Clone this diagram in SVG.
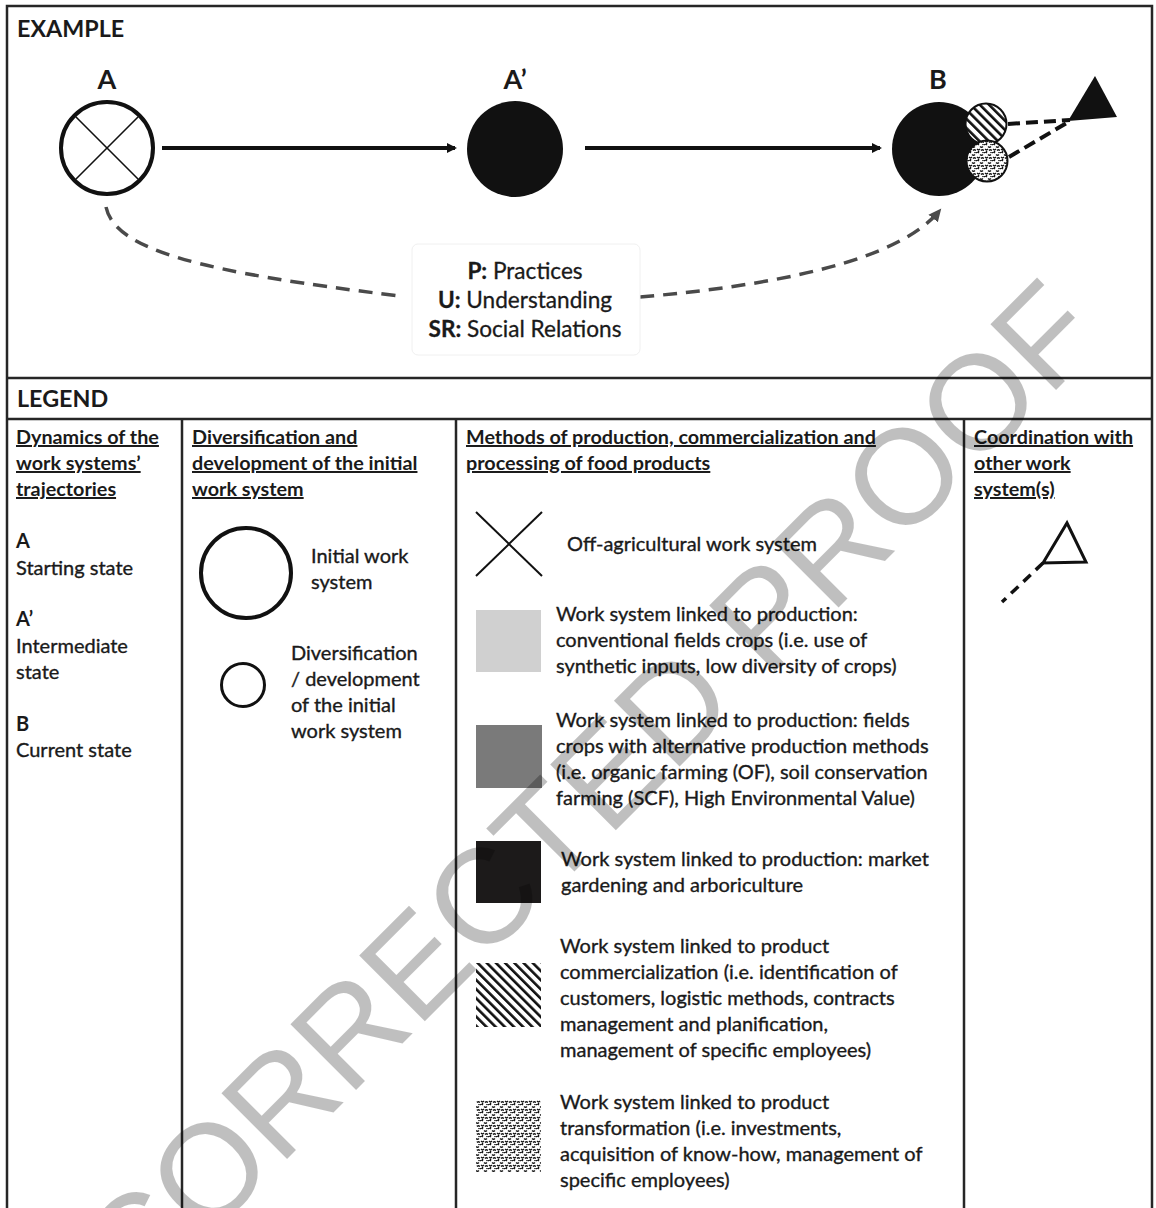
<svg xmlns="http://www.w3.org/2000/svg" width="1156" height="1208" viewBox="0 0 1156 1208">
<style>
text{font-family:Lato,"Open Sans","Liberation Sans",sans-serif;fill:#1a1a1a}
.h{font-weight:bold;font-size:23.3px}
.hd{font-weight:bold;font-size:19.8px;text-decoration:underline}
.t{font-size:20px;stroke:#1a1a1a;stroke-width:0.35}
.tb{font-size:20px;font-weight:bold}
.lbl{font-size:22.6px;text-anchor:middle;stroke:#1a1a1a;stroke-width:0.3}
.big{font-weight:bold;font-size:27px;text-anchor:middle}
.frame{stroke:#262626;stroke-width:2.5;fill:none}
.wm{font-family:"Liberation Sans",Arial,sans-serif;font-size:135px;fill:#000;fill-opacity:0.25}
</style>
<defs>
<pattern id="hatch" width="6.5" height="6.5" patternUnits="userSpaceOnUse" patternTransform="rotate(-45)">
<rect width="6.5" height="6.5" fill="#fff"/>
<rect x="0" y="0" width="2.6" height="6.5" fill="#111"/>
</pattern>
<pattern id="dots" width="8" height="8" patternUnits="userSpaceOnUse">
<rect width="8" height="8" fill="#fff"/>
<path d="M0,1 q1.5,-1.5 3,0 M4,2.5 q1.5,1.5 3,0 M1,5 q1.5,1.5 3,0 M5,6.5 q1.5,-1.5 3,0" fill="none" stroke="#111" stroke-width="1.2"/>
<circle cx="7" cy="0.5" r="0.8" fill="#111"/>
<circle cx="2.5" cy="7.4" r="0.8" fill="#111"/>
</pattern>
<marker id="ah" markerWidth="10" markerHeight="10" refX="8" refY="5" orient="auto" markerUnits="userSpaceOnUse">
<path d="M0,0 L10,5 L0,10 Z" fill="#111"/>
</marker>
<marker id="ahg" markerWidth="14" markerHeight="14" refX="11" refY="7" orient="auto" markerUnits="userSpaceOnUse">
<path d="M0,1 L13,7 L0,13 Z" fill="#4a4a4a"/>
</marker>
</defs>
<rect width="1156" height="1208" fill="#fff"/>

<g id="frame" class="frame">
<path d="M7,1210 V6 H1152 V1210"/>
<line x1="7" y1="378" x2="1152" y2="378"/>
<line x1="7" y1="419" x2="1152" y2="419"/>
<line x1="182" y1="419" x2="182" y2="1210"/>
<line x1="456" y1="419" x2="456" y2="1210"/>
<line x1="964" y1="419" x2="964" y2="1210"/>
</g>

<text class="h" x="17" y="37">EXAMPLE</text>
<text class="h" x="17" y="407">LEGEND</text>

<g id="connectors">
<line x1="162" y1="148" x2="455" y2="148" stroke="#111" stroke-width="4" marker-end="url(#ah)"/>
<line x1="585" y1="148" x2="880" y2="148" stroke="#111" stroke-width="4" marker-end="url(#ah)"/>
<path d="M106,207 C115,250 200,272 400,296" fill="none" stroke="#4a4a4a" stroke-width="3.5" stroke-dasharray="14,9"/>
<path d="M640,297 C780,285 900,260 940,210" fill="none" stroke="#4a4a4a" stroke-width="3.5" stroke-dasharray="14,9" marker-end="url(#ahg)"/>
<line x1="1008" y1="124" x2="1070" y2="120" stroke="#111" stroke-width="4" stroke-dasharray="12,6"/>
<line x1="1009" y1="157" x2="1070" y2="121" stroke="#111" stroke-width="4" stroke-dasharray="12,6"/>
</g>

<g id="nodeA">
<text class="big" x="107" y="89">A</text>
<circle cx="107" cy="148" r="46" fill="#fff" stroke="#111" stroke-width="4"/>
<line x1="75" y1="116" x2="139" y2="180" stroke="#111" stroke-width="1.6"/>
<line x1="139" y1="116" x2="75" y2="180" stroke="#111" stroke-width="1.6"/>
</g>

<g id="nodeA2">
<text class="big" x="515" y="89">A’</text>
<circle cx="515" cy="149" r="48" fill="#111"/>
</g>

<g id="nodeB">
<text class="big" x="938" y="89">B</text>
<circle cx="939" cy="149" r="47" fill="#111"/>
<circle cx="986" cy="124" r="20.5" fill="url(#hatch)" stroke="#111" stroke-width="2"/>
<circle cx="987" cy="161" r="20.5" fill="url(#dots)" stroke="#111" stroke-width="2"/>
</g>

<g id="nodeTriangle">
<polygon points="1068,121 1095,76 1117,117" fill="#111"/>
</g>

<g id="labelBox">
<rect x="412" y="244" width="228" height="111" rx="6" fill="#fff" stroke="#f0f0f0" stroke-width="1"/>
<text class="lbl" x="525" y="279"><tspan font-weight="bold">P:</tspan> Practices</text>
<text class="lbl" x="525" y="308"><tspan font-weight="bold">U:</tspan> Understanding</text>
<text class="lbl" x="525" y="337"><tspan font-weight="bold">SR:</tspan> Social Relations</text>
</g>

<g id="col1">
<text class="hd" x="16" y="444">Dynamics of the</text>
<text class="hd" x="16" y="470">work systems’</text>
<text class="hd" x="16" y="496">trajectories</text>
<text class="tb" x="16" y="548">A</text>
<text class="t" x="16" y="575">Starting state</text>
<text class="tb" x="16" y="626">A’</text>
<text class="t" x="16" y="653">Intermediate</text>
<text class="t" x="16" y="679">state</text>
<text class="tb" x="16" y="731">B</text>
<text class="t" x="16" y="757">Current state</text>
</g>

<g id="col2">
<text class="hd" x="192" y="444">Diversification and</text>
<text class="hd" x="192" y="470">development of the initial</text>
<text class="hd" x="192" y="496">work system</text>
<g id="legendInitial">
<circle cx="246" cy="573" r="45" fill="none" stroke="#111" stroke-width="4"/>
<text class="t" x="311" y="563">Initial work</text>
<text class="t" x="311" y="589">system</text>
</g>
<g id="legendDiversification">
<circle cx="243" cy="685" r="21.5" fill="none" stroke="#111" stroke-width="3"/>
<text class="t" x="291" y="660">Diversification</text>
<text class="t" x="291" y="686">/ development</text>
<text class="t" x="291" y="712">of the initial</text>
<text class="t" x="291" y="738">work system</text>
</g>
</g>

<g id="col3">
<text class="hd" x="466" y="444">Methods of production, commercialization and</text>
<text class="hd" x="466" y="470">processing of food products</text>
<g id="legendOff">
<line x1="476" y1="512" x2="542" y2="576" stroke="#111" stroke-width="2"/>
<line x1="476" y1="576" x2="542" y2="512" stroke="#111" stroke-width="2"/>
<text class="t" x="567" y="551">Off-agricultural work system</text>
</g>
<g id="legendConventional">
<rect x="476" y="610" width="65" height="62" fill="#d0d0d0"/>
<text class="t" x="556" y="621">Work system linked to production:</text>
<text class="t" x="556" y="647">conventional fields crops (i.e. use of</text>
<text class="t" x="556" y="673">synthetic inputs, low diversity of crops)</text>
</g>
<g id="legendAlternative">
<rect x="476" y="725" width="66" height="63" fill="#7a7a7a"/>
<text class="t" x="556" y="727">Work system linked to production: fields</text>
<text class="t" x="556" y="753">crops with alternative production methods</text>
<text class="t" x="556" y="779">(i.e. organic farming (OF), soil conservation</text>
<text class="t" x="556" y="805">farming (SCF), High Environmental Value)</text>
</g>
<g id="legendMarket">
<rect x="476" y="841" width="65" height="62" fill="#1c1a1a"/>
<text class="t" x="561" y="866">Work system linked to production: market</text>
<text class="t" x="561" y="892">gardening and arboriculture</text>
</g>
<g id="legendCommercialization">
<rect x="476" y="963" width="65" height="64" fill="url(#hatch)"/>
<text class="t" x="560" y="953">Work system linked to product</text>
<text class="t" x="560" y="979">commercialization (i.e. identification of</text>
<text class="t" x="560" y="1005">customers, logistic methods, contracts</text>
<text class="t" x="560" y="1031">management and planification,</text>
<text class="t" x="560" y="1057">management of specific employees)</text>
</g>
<g id="legendTransformation">
<rect x="476" y="1100" width="65" height="72" fill="url(#dots)"/>
<text class="t" x="560" y="1109">Work system linked to product</text>
<text class="t" x="560" y="1135">transformation (i.e. investments,</text>
<text class="t" x="560" y="1161">acquisition of know-how, management of</text>
<text class="t" x="560" y="1187">specific employees)</text>
</g>
</g>

<g id="col4">
<text class="hd" x="974" y="444">Coordination with</text>
<text class="hd" x="974" y="470">other work</text>
<text class="hd" x="974" y="496">system(s)</text>
<g id="legendCoordination">
<polygon points="1043,563 1067,523 1086,562" fill="none" stroke="#111" stroke-width="3"/>
<line x1="1043" y1="563" x2="1002" y2="602" stroke="#111" stroke-width="3.5" stroke-dasharray="10,7"/>
</g>
</g>

<text class="wm" x="136" y="1310" transform="rotate(-45 136 1310)">CORRECTED PROOF</text>
</svg>
